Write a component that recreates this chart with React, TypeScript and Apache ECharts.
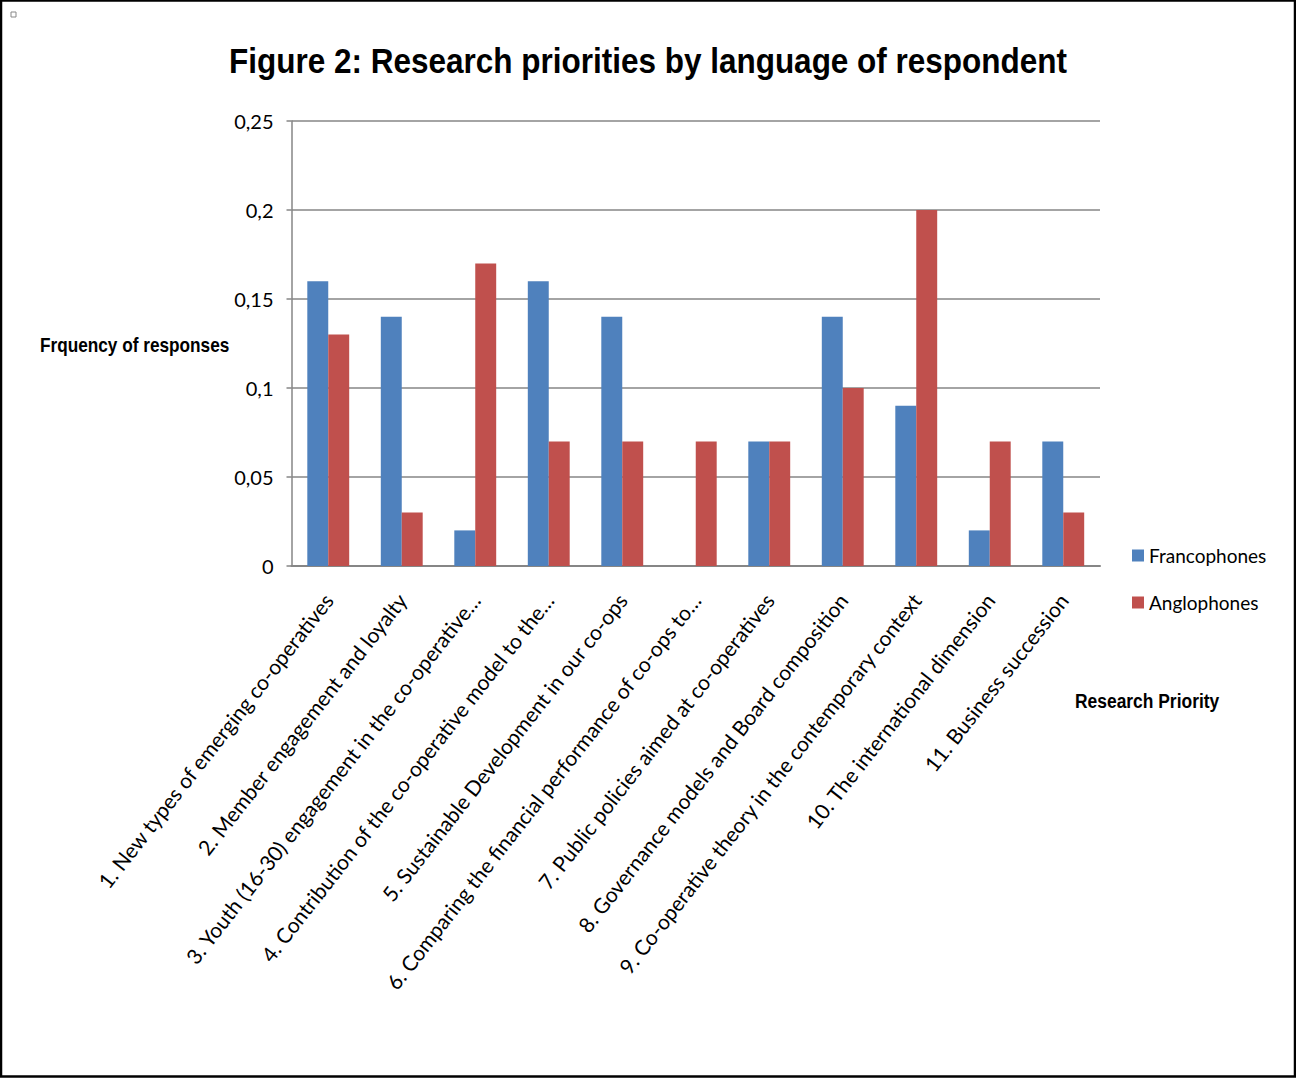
import React, { useEffect, useRef } from "react";
import * as echarts from "echarts";

const categories = [
  "1. New types of emerging co-operatives",
  "2. Member engagement and loyalty",
  "3. Youth (16-30) engagement in the co-operative…",
  "4. Contribution of the co-operative model to the…",
  "5. Sustainable Development in our co-ops",
  "6. Comparing the financial performance of co-ops to…",
  "7. Public policies aimed at co-operatives",
  "8. Governance models and Board composition",
  "9. Co-operative theory in the contemporary context",
  "10. The international dimension",
  "11. Business succession",
];
const francophones = [0.16, 0.14, 0.02, 0.16, 0.14, 0, 0.07, 0.14, 0.09, 0.02, 0.07];
const anglophones = [0.13, 0.03, 0.17, 0.07, 0.07, 0.07, 0.07, 0.1, 0.2, 0.07, 0.03];
const seriesNames = ["Francophones", "Anglophones"];
const titleText = "Figure 2: Research priorities by language of respondent";
const yAxisTitle = "Frquency of responses";
const xAxisTitle = "Research Priority";

const BOLD_FONT = "'Liberation Sans', Arial, sans-serif";
const FONT = "Lato, 'Liberation Sans', sans-serif";

export default function App() {
  const ref = useRef<HTMLDivElement>(null);
  useEffect(() => {
    if (!ref.current) return;
    const chart = echarts.init(ref.current, undefined, { renderer: "svg" });
    chart.setOption({
      animation: false,
      backgroundColor: "#ffffff",
      textStyle: { fontFamily: FONT },
      legend: {
        orient: "vertical",
        left: 1132,
        top: 546,
        padding: 0,
        itemWidth: 12,
        itemHeight: 12,
        itemGap: 28,
        icon: "rect",
        textStyle: { fontFamily: FONT, fontSize: 19, color: "#000" },
        data: seriesNames,
      },
      grid: {
        left: 291.5,
        right: 196,
        top: 121,
        bottom: 512,
        containLabel: false,
        outerBoundsMode: "none",
      },
      xAxis: {
        type: "category",
        data: categories,
        axisLine: { show: true, lineStyle: { color: "#868686", width: 2 } },
        axisTick: { show: false },
        axisLabel: {
          interval: 0,
          rotate: 52,
          margin: 30,
          fontFamily: FONT,
          fontSize: 21,
          color: "#000",
        },
        splitLine: { show: false },
      },
      yAxis: {
        type: "value",
        min: 0,
        max: 0.25,
        interval: 0.05,
        axisLine: { show: true, lineStyle: { color: "#868686", width: 1.5 } },
        axisTick: { show: true, length: 5, lineStyle: { color: "#868686", width: 1.5 } },
        axisLabel: {
          margin: 18,
          fontFamily: FONT,
          fontSize: 20,
          color: "#000",
          formatter: (v: number) => String(Math.round(v * 100) / 100).replace(".", ","),
        },
        splitLine: { show: true, lineStyle: { color: "#868686", width: 1.5 } },
      },
      series: [
        {
          name: seriesNames[0],
          type: "bar",
          data: francophones,
          itemStyle: { color: "#4F81BD" },
          barGap: 0,
          barCategoryGap: "43%",
        },
        {
          name: seriesNames[1],
          type: "bar",
          data: anglophones,
          itemStyle: { color: "#C0504D" },
          barGap: 0,
          barCategoryGap: "43%",
        },
      ],
      graphic: [
        {
          type: "rect",
          shape: { x: 1, y: 0.5, width: 1294, height: 1076 },
          style: { fill: "none", stroke: "#000", lineWidth: 2.5 },
          silent: true,
        },
        {
          type: "rect",
          shape: { x: 11, y: 12, width: 5, height: 5 },
          style: { fill: "#fff", stroke: "#888", lineWidth: 1 },
          silent: true,
        },
        {
          type: "text",
          x: 648,
          y: 61,
          scaleX: 0.9,
          style: {
            text: titleText,
            fontFamily: BOLD_FONT,
            fontSize: 35,
            fontWeight: "bold",
            fill: "#000",
            align: "center",
            verticalAlign: "middle",
          },
        },
        {
          type: "text",
          x: 40,
          y: 345,
          scaleX: 0.82,
          style: {
            text: yAxisTitle,
            fontFamily: BOLD_FONT,
            fontSize: 21,
            fontWeight: "bold",
            fill: "#000",
            align: "left",
            verticalAlign: "middle",
          },
        },
        {
          type: "text",
          x: 1075,
          y: 701,
          scaleX: 0.83,
          style: {
            text: xAxisTitle,
            fontFamily: BOLD_FONT,
            fontSize: 21,
            fontWeight: "bold",
            fill: "#000",
            align: "left",
            verticalAlign: "middle",
          },
        },
      ],
    });
    return () => chart.dispose();
  }, []);
  return (
    <div
      ref={ref}
      style={{ position: "absolute", left: 0, top: 0, width: 1296, height: 1078 }}
    />
  );
}
